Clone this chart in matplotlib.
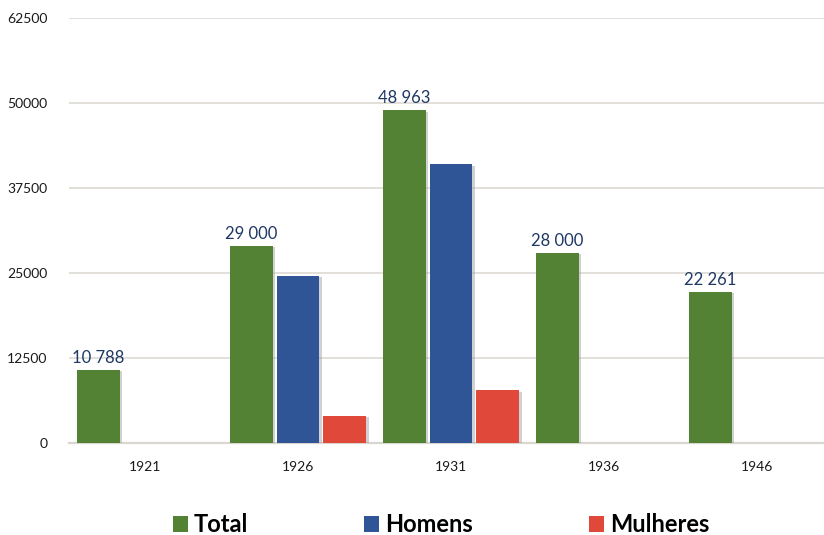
import matplotlib
matplotlib.use("Agg")
import matplotlib.pyplot as plt
import matplotlib.patheffects as pe
import numpy as np

years = ["1921", "1926", "1931", "1936", "1946"]
total = [10788, 29000, 48963, 28000, 22261]
homens = [None, 24600, 41000, None, None]
mulheres = [None, 4000, 7800, None, None]
series_names = ["Total", "Homens", "Mulheres"]
series_colors = ["#548235", "#2F5597", "#E0493A"]
yticks = [0, 12500, 25000, 37500, 50000, 62500]

plt.rcParams["font.family"] = ["Lato", "DejaVu Sans"]

fig = plt.figure(figsize=(8.24, 5.35), dpi=100)
ax = fig.add_axes([68.5 / 824, 92 / 535, 765 / 824, 425 / 535])

x = np.arange(len(years))
width = 0.28
step = 0.305
shadow = [pe.SimplePatchShadow(offset=(1.8, -1.2), shadow_rgbFace="#9a9a9a", alpha=0.45), pe.Normal()]

handles = []
for i, (name, vals, col) in enumerate(zip(series_names, [total, homens, mulheres], series_colors)):
    xs = [xi + (i - 1) * step for xi, v in zip(x, vals) if v is not None]
    hs = [v for v in vals if v is not None]
    bars = ax.bar(xs, hs, width=width, color=col, zorder=3, label=name)
    for b in bars:
        b.set_path_effects(shadow)
    handles.append(bars)

# value labels on the totals
for xi, v in zip(x, total):
    ax.text(xi - step, v + 600, f"{v:,}".replace(",", " "), ha="center", va="bottom",
            fontsize=12, color="#1F3864", zorder=4)

ax.set_xlim(-0.5, len(years) - 0.5)
ax.set_ylim(0, 62500)
ax.set_yticks(yticks)
ax.set_yticklabels([str(t) for t in yticks], fontsize=10, color="#1a1a1a")
ax.set_xticks(x)
ax.set_xticklabels(years, fontsize=10, color="#1a1a1a")
ax.tick_params(axis="both", length=0)
ax.tick_params(axis="y", pad=15)
ax.tick_params(axis="x", pad=13)
ax.grid(axis="y", color="#E3E0DB", linewidth=1.4, zorder=0)
for s in ["top", "right", "left"]:
    ax.spines[s].set_visible(False)
ax.spines["bottom"].set_color("#D9D6D0")
ax.spines["bottom"].set_linewidth(1.6)

leg = fig.legend(handles=handles, labels=series_names, loc="center",
                 bbox_to_anchor=(441 / 824, 10 / 535), ncol=3, frameon=False,
                 prop={"weight": "bold", "size": 17}, handlelength=0.65, handleheight=0.65,
                 handletextpad=0.25, columnspacing=4.9, borderpad=0)
for h in leg.legend_handles:
    h.set_path_effects([])

fig.savefig("out.png", dpi=100)
